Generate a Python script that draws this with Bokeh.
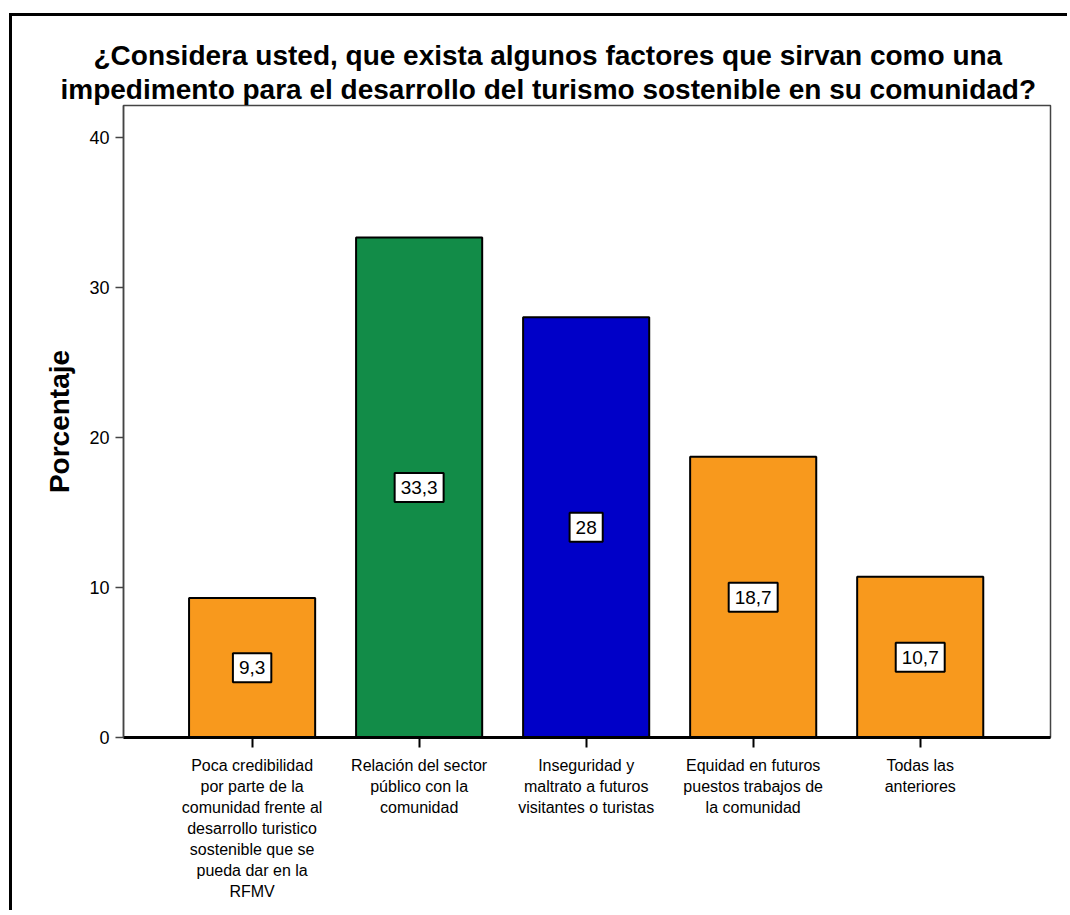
from bokeh.plotting import figure
from bokeh.models import ColumnDataSource, Range1d, FixedTicker, Title
from bokeh.core.properties import value
from bokeh.embed import file_html
from bokeh.resources import INLINE

title_lines = ["¿Considera usted, que exista algunos factores que sirvan como una",
               "impedimento para el desarrollo del turismo sostenible en su comunidad?"]
categories = [
    "Poca credibilidad\npor parte de la\ncomunidad frente al\ndesarrollo turistico\nsostenible que se\npueda dar en la\nRFMV",
    "Relación del sector\npúblico con la\ncomunidad",
    "Inseguridad y\nmaltrato a futuros\nvisitantes o turistas",
    "Equidad en futuros\npuestos trabajos de\nla comunidad",
    "Todas las\nanteriores",
]
values = [9.3, 33.3, 28.0, 18.7, 10.7]
colors = ["#F8991D", "#128C48", "#0000C8", "#F8991D", "#F8991D"]
y_ticks = [0, 10, 20, 30, 40]
y_label = "Porcentaje"

xs = list(range(len(categories)))
labels = [f"{v:g}".replace(".", ",") for v in values]
src = ColumnDataSource(dict(x=xs, top=values, mid=[v / 2 for v in values],
                            color=colors, lbl=labels))

FONT = "Liberation Sans"

p = figure(width=1058, height=897, output_backend="svg", toolbar_location=None,
           title=None,
           x_range=Range1d(-0.77, 4.78), y_range=Range1d(0, 42.1),
           min_border_left=111, min_border_right=20, min_border_top=89,
           min_border_bottom=176)
p.styles = {"border-left": "3px solid black", "border-top": "3px solid black",
            "margin-left": "9px", "margin-top": "13px"}

t2 = Title(text=title_lines[1], text_font=FONT, text_font_size="28px",
           text_font_style="bold", text_color="black", align="left",
           offset=-63, standoff=2)
t1 = Title(text=title_lines[0], text_font=FONT, text_font_size="28px",
           text_font_style="bold", text_color="black", align="left",
           offset=-30, standoff=0)
p.add_layout(t2, "above")
p.add_layout(t1, "above")

p.vbar(x="x", top="top", width=0.755, source=src, fill_color="color",
       line_color="black", line_width=2)

p.text(x="x", y="mid", text="lbl", source=src, text_align="center",
       text_baseline="middle", text_font=value(FONT), text_font_size="19px",
       text_color="black", background_fill_color="white",
       border_line_color="black", border_line_width=2,
       padding=dict(left=6, right=6, top=8, bottom=8))

p.grid.visible = False
p.outline_line_color = "#444444"
p.outline_line_width = 1.5

p.yaxis.ticker = FixedTicker(ticks=y_ticks)
p.yaxis.axis_label = y_label
p.yaxis.axis_label_text_font = FONT
p.yaxis.axis_label_text_font_style = "bold"
p.yaxis.axis_label_text_font_size = "28px"
p.yaxis.axis_label_text_color = "black"
p.yaxis.axis_label_standoff = 11
p.yaxis.major_label_text_font = FONT
p.yaxis.major_label_text_font_size = "18px"
p.yaxis.major_label_text_color = "black"
p.yaxis.major_label_standoff = 6
p.yaxis.major_tick_in = 0
p.yaxis.major_tick_out = 8
p.yaxis.minor_tick_line_color = None
p.yaxis.axis_line_color = "#444444"
p.yaxis.axis_line_width = 1.5
p.yaxis.major_tick_line_color = "#444444"
p.yaxis.major_tick_line_width = 1.5

p.xaxis.ticker = FixedTicker(ticks=xs)
p.xaxis.major_label_overrides = {i: c for i, c in zip(xs, categories)}
p.xaxis.major_label_text_font = FONT
p.xaxis.major_label_text_font_size = "16px"
p.xaxis.major_label_text_color = "black"
p.xaxis.major_label_text_line_height = 1.24
p.xaxis.major_label_standoff = 9
p.xaxis.major_tick_in = 0
p.xaxis.major_tick_out = 10
p.xaxis.minor_tick_line_color = None
p.xaxis.axis_line_color = "black"
p.xaxis.axis_line_width = 3
p.xaxis.major_tick_line_color = "black"
p.xaxis.major_tick_line_width = 2

open("out.html", "w").write(file_html(p, INLINE))
